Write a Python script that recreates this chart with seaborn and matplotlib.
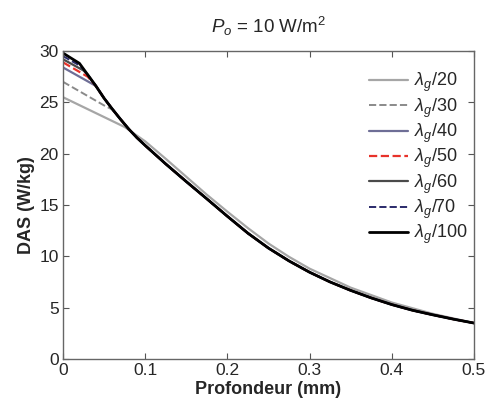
import matplotlib
matplotlib.use("Agg")
import matplotlib.pyplot as plt
import seaborn as sns
import pandas as pd

# ---- data ----
x_common = [0.08, 0.09, 0.1, 0.125, 0.15, 0.175, 0.2, 0.225, 0.25, 0.275, 0.3, 0.325, 0.35,
            0.375, 0.4, 0.425, 0.45, 0.475, 0.5]
y_common = [22.4, 21.55, 20.8, 19.0, 17.28, 15.6, 13.9, 12.25, 10.8, 9.55, 8.45, 7.5, 6.68,
            5.95, 5.3, 4.75, 4.3, 3.88, 3.5]

x_l20 = [0, 0.075, 0.1, 0.125, 0.15, 0.175, 0.2, 0.225, 0.25, 0.275, 0.3, 0.35, 0.4, 0.45, 0.5]
y_l20 = [25.5, 22.6, 21.2, 19.5, 17.75, 16.0, 14.35, 12.75, 11.25, 9.95, 8.8, 6.95, 5.5, 4.4, 3.5]

x_l30 = [0, 0.05, 0.06, 0.07]
y_l30 = [27.0, 24.7, 24.3, 23.35]

x_l40 = [0, 0.04, 0.05, 0.06, 0.07]
y_l40 = [28.4, 26.6, 25.4, 24.35, 23.35]

x_l50 = [0, 0.03, 0.04, 0.05, 0.06, 0.07]
y_l50 = [28.9, 27.5, 26.6, 25.4, 24.35, 23.35]

x_l60 = [0, 0.025, 0.03, 0.04, 0.05, 0.06, 0.07]
y_l60 = [29.2, 28.1, 27.7, 26.6, 25.4, 24.35, 23.35]

x_l70 = [0, 0.02, 0.025, 0.03, 0.04, 0.05, 0.06, 0.07]
y_l70 = [29.5, 28.6, 28.2, 27.7, 26.6, 25.4, 24.35, 23.35]

x_l100 = [0, 0.02, 0.03, 0.04, 0.05, 0.06, 0.07]
y_l100 = [29.8, 28.8, 27.7, 26.6, 25.4, 24.35, 23.35]

labels = [r"$\lambda_g$/20", r"$\lambda_g$/30", r"$\lambda_g$/40", r"$\lambda_g$/50",
          r"$\lambda_g$/60", r"$\lambda_g$/70", r"$\lambda_g$/100"]

xticks = [0, 0.1, 0.2, 0.3, 0.4, 0.5]
xticklabels = ["0", "0.1", "0.2", "0.3", "0.4", "0.5"]
yticks = [0, 5, 10, 15, 20, 25, 30]

series_x = [x_l20, x_l30, x_l40, x_l50, x_l60, x_l70, x_l100]
series_y = [y_l20, y_l30, y_l40, y_l50, y_l60, y_l70, y_l100]

styles = [
    dict(color="#a6a6a6", ls="-", lw=1.6),
    dict(color="#8a8a8a", ls="--", lw=1.4),
    dict(color="#6e6e96", ls="-", lw=1.6),
    dict(color="#e8322a", ls="--", lw=1.6),
    dict(color="#4a4a4a", ls="-", lw=1.6),
    dict(color="#2a2a6a", ls="--", lw=1.4),
    dict(color="#000000", ls="-", lw=2.0),
]

sns.set_style("white")
plt.rcParams["font.family"] = ["Liberation Sans", "DejaVu Sans"]
plt.rcParams["mathtext.fontset"] = "custom"
plt.rcParams["mathtext.rm"] = "Liberation Sans"
plt.rcParams["mathtext.it"] = "Liberation Sans:italic"
plt.rcParams["mathtext.bf"] = "Liberation Sans:bold"

fig = plt.figure(figsize=(4.86, 4.03), dpi=100)
ax = fig.add_axes([0.1296, 0.1092, 0.8457, 0.7642])

handles = []
for i, (xs, ys) in enumerate(zip(series_x, series_y)):
    st = styles[i]
    if i == 0:
        df = pd.DataFrame({"x": xs, "y": ys})
    else:
        df = pd.DataFrame({"x": list(xs) + x_common, "y": list(ys) + y_common})
    sns.lineplot(data=df, x="x", y="y", ax=ax, color=st["color"], linestyle=st["ls"],
                 linewidth=st["lw"], sort=False, estimator=None)
    h, = ax.plot([], [], color=st["color"], linestyle=st["ls"], linewidth=st["lw"])
    handles.append(h)

ax.set_xlim(0, 0.5)
ax.set_ylim(0, 30)
ax.set_xticks(xticks)
ax.set_xticklabels(xticklabels)
ax.set_yticks(yticks)
ax.tick_params(direction="in", length=4, width=0.8, color="#555555", labelsize=12.5,
               top=True, right=True, bottom=True, left=True, pad=3)
for s in ax.spines.values():
    s.set_color("#666666")
    s.set_linewidth(1.0)

ax.set_xlabel("Profondeur (mm)", fontsize=13, fontweight="bold", labelpad=2)
ax.set_ylabel("DAS (W/kg)", fontsize=13, fontweight="bold", labelpad=3)
ax.set_title(r"$P_o$ = 10 W/m$^2$", fontsize=13.5, pad=13)

leg = ax.legend(handles, labels, loc="upper right", bbox_to_anchor=(1.01, 0.97),
                frameon=False, fontsize=13, handlelength=2.2, handletextpad=0.3,
                labelspacing=0.12, borderaxespad=0.2)

fig.savefig("out.png", dpi=100)
